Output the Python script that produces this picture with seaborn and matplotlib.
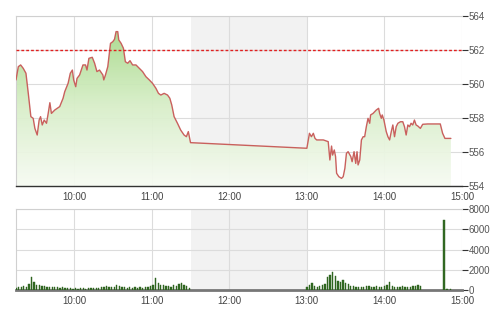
import numpy as np
import pandas as pd
import matplotlib
matplotlib.use("Agg")
import matplotlib.pyplot as plt
import seaborn as sns

# ---------------- data ----------------
# price: minutes after 09:15 and index value
price_min = [0, 1.8, 3.6, 5.6, 7.7, 9.5, 11.5, 13.3, 14.6, 16.4, 17.9, 19.0, 20.3, 21.8, 23.6,
             24.9, 26.2, 27.4, 30.0, 33.8, 36.4, 37.7, 40.3, 42.0, 43.6, 44.6, 46.2, 47.2, 49.2,
             51.8, 53.8, 54.9, 56.4, 59.0, 60.8, 62.6, 64.6, 67.2, 67.9, 69.2, 71.0, 73.1, 74.9,
             76.2, 77.4, 78.7, 79.5, 81.3, 83.1, 84.6, 86.4, 88.2, 90.2, 92.8, 95.4, 97.9, 100.5,
             103.1, 105.6, 108.2, 110.2, 112.0, 114.6, 117.2, 119.0, 120.5, 122.3, 124.9, 127.4,
             130.0, 131.8, 133.3, 134.4, 135.0,
             225.0, 227.0, 228.5, 230.0, 231.3, 232.6, 234.3, 237.7, 241.5, 242.8, 244.1, 244.9,
             246.2, 247.2, 248.0, 249.7, 251.8, 253.1, 254.4, 255.6, 256.9, 259.0, 260.0, 261.5,
             262.8, 263.8, 264.6, 265.9, 267.2, 268.5, 269.7, 271.0, 272.3, 273.6, 274.3, 276.2,
             278.7, 280.5, 281.3, 282.6, 283.3, 284.6, 286.4, 287.7, 289.0, 290.3, 291.5, 292.8,
             294.1, 295.4, 297.4, 299.2, 300.5, 301.8, 303.1, 304.4, 305.6, 306.9, 308.2, 309.5,
             310.8, 312.8, 314.6, 318.5, 323.6, 328.2, 330.0, 331.8, 336.4]
price_val = [560.24, 561.02, 561.12, 560.92, 560.63, 559.45, 558.08, 557.98, 557.39, 557.00,
             557.88, 558.08, 557.59, 557.88, 557.69, 558.27, 558.90, 558.27, 558.47, 558.67,
             559.16, 559.55, 560.04, 560.63, 560.82, 560.24, 559.84, 560.33, 560.53, 561.12,
             561.12, 560.82, 561.51, 561.57, 561.22, 560.73, 560.82, 560.53, 560.24, 560.53,
             561.02, 562.39, 562.49, 562.63, 563.08, 563.08, 562.59, 562.39, 562.10, 561.31,
             561.22, 561.37, 561.12, 561.12, 560.92, 560.73, 560.43, 560.24, 560.04, 559.75,
             559.45, 559.35, 559.45, 559.35, 559.16, 558.76, 558.08, 557.69, 557.29, 557.00,
             556.90, 557.20, 556.80, 556.55,
             556.22, 557.10, 556.90, 557.10, 556.80, 556.71, 556.71, 556.71, 556.61, 555.53,
             556.35, 555.82, 556.12, 555.73, 554.75, 554.55, 554.45, 554.55, 555.04, 555.92,
             556.02, 555.73, 555.43, 556.02, 555.33, 556.02, 555.24, 555.53, 556.71, 556.90,
             556.90, 557.49, 557.98, 557.69, 558.18, 558.27, 558.47, 558.57, 558.27, 557.98,
             558.18, 557.88, 557.20, 556.90, 556.71, 557.20, 557.59, 556.90, 557.49, 557.69,
             557.78, 557.78, 557.49, 557.00, 557.59, 557.49, 557.69, 557.59, 557.88, 557.59,
             557.53, 557.39, 557.63, 557.65, 557.65, 557.65, 557.10, 556.80, 556.80]
reference_level = 562.0

# volume: minutes after 09:15 and traded volume
vol_min = list(range(0, 136, 2)) + list(range(225, 315, 2)) + [331, 333, 334, 336]
vol_val = [150, 250, 300, 350, 300, 550, 1270, 800, 450, 500, 350, 400, 300, 300, 250, 300,
           250, 200, 250, 180, 200, 150, 120, 150, 130, 170, 150, 120, 170, 150, 180, 200,
           220, 250, 300, 380, 250, 300, 250, 500, 350, 300, 250, 200, 300, 220, 280, 200,
           250, 200, 300, 250, 350, 500, 1150, 700, 450, 500, 350, 400, 300, 450, 400, 550,
           650, 500, 350, 200,
           300, 450, 650, 350, 300, 400, 500, 600, 1300, 1500, 1800, 1400, 900, 800, 950, 700,
           600, 400, 350, 300, 250, 300, 250, 350, 400, 300, 250, 350, 300, 250, 350, 500,
           800, 400, 300, 250, 300, 350, 300, 250, 300, 350, 400, 500, 350,
           6900, 120, 120, 120]

x_ticks = [10, 11, 12, 13, 14, 15]
x_labels = ["10:00", "11:00", "12:00", "13:00", "14:00", "15:00"]
price_ticks = [554, 556, 558, 560, 562, 564]
vol_ticks = [0, 2000, 4000, 6000, 8000]
lunch = (11.5, 13.0)

# ---------------- figure ----------------
sns.set_theme(style="white")
plt.rcParams["font.family"] = ["Liberation Sans", "DejaVu Sans"]

price = pd.DataFrame({"t": 9.25 + np.array(price_min) / 60.0, "v": price_val})
vol = pd.DataFrame({"t": 9.25 + np.array(vol_min) / 60.0, "v": vol_val})

fig = plt.figure(figsize=(5.0, 3.12), dpi=100)
ax1 = fig.add_axes([0.032, 0.4038, 0.892, 0.545])
ax2 = fig.add_axes([0.032, 0.0705, 0.892, 0.2596])

grid_c = "#dcdcdc"
for ax in (ax1, ax2):
    ax.set_facecolor("white")
    ax.axvspan(*lunch, color="#f2f2f2", zorder=0, lw=0)
    ax.set_xlim(9.25, 15.0)
    ax.set_xticks(x_ticks)
    ax.set_xticklabels(x_labels, fontsize=7, color="#444444")
    ax.yaxis.tick_right()
    ax.tick_params(axis="x", length=0, pad=4)
    ax.tick_params(axis="y", length=4, width=0.8, color="#333333", pad=1,
                   labelsize=7, labelcolor="#555555", right=True, left=False)
    ax.grid(True, color=grid_c, lw=0.8, zorder=1)
    ax.set_axisbelow(True)
    for s in ("top", "left"):
        ax.spines[s].set_color("#d0d0d0")
        ax.spines[s].set_linewidth(0.8)
    ax.spines["right"].set_visible(False)
    ax.set_xlabel("")
    ax.set_ylabel("")

# price panel
ax1.set_ylim(554, 564)
ax1.set_yticks(price_ticks)
ax1.spines["bottom"].set_color("#333333")
ax1.spines["bottom"].set_linewidth(1.0)

poly = ax1.fill_between(price["t"], price["v"], 554, color="none", lw=0, zorder=2)
grad = np.linspace(1, 0, 256).reshape(-1, 1)
cmap = matplotlib.colors.LinearSegmentedColormap.from_list(
    "g", ["#f7fbf3", "#d9efca", "#a9da8c"])
img = ax1.imshow(grad, cmap=cmap, aspect="auto", extent=(9.25, 15.0, 554, 563.2),
                 origin="upper", zorder=2, alpha=0.95)
img.set_clip_path(poly.get_paths()[0], transform=ax1.transData)
ax1.set_xlim(9.25, 15.0)
ax1.set_ylim(554, 564)

sns.lineplot(data=price, x="t", y="v", ax=ax1, color="#c9605d", lw=1.0,
             sort=False, estimator=None, zorder=4)
ax1.axhline(reference_level, color="#e02020", lw=1.0, ls=(0, (2, 1.5)), zorder=5)
ax1.set_xlabel("")
ax1.set_ylabel("")

# volume panel
ax2.set_ylim(0, 8000)
ax2.set_yticks(vol_ticks)
ax2.spines["bottom"].set_color("#777777")
ax2.spines["bottom"].set_linewidth(2.0)
ax2.bar(vol["t"], vol["v"], width=1.0 / 60, color="#336b24", edgecolor="#2a5e1c",
        lw=0.3, zorder=3)

fig.savefig("out.png", dpi=100)
